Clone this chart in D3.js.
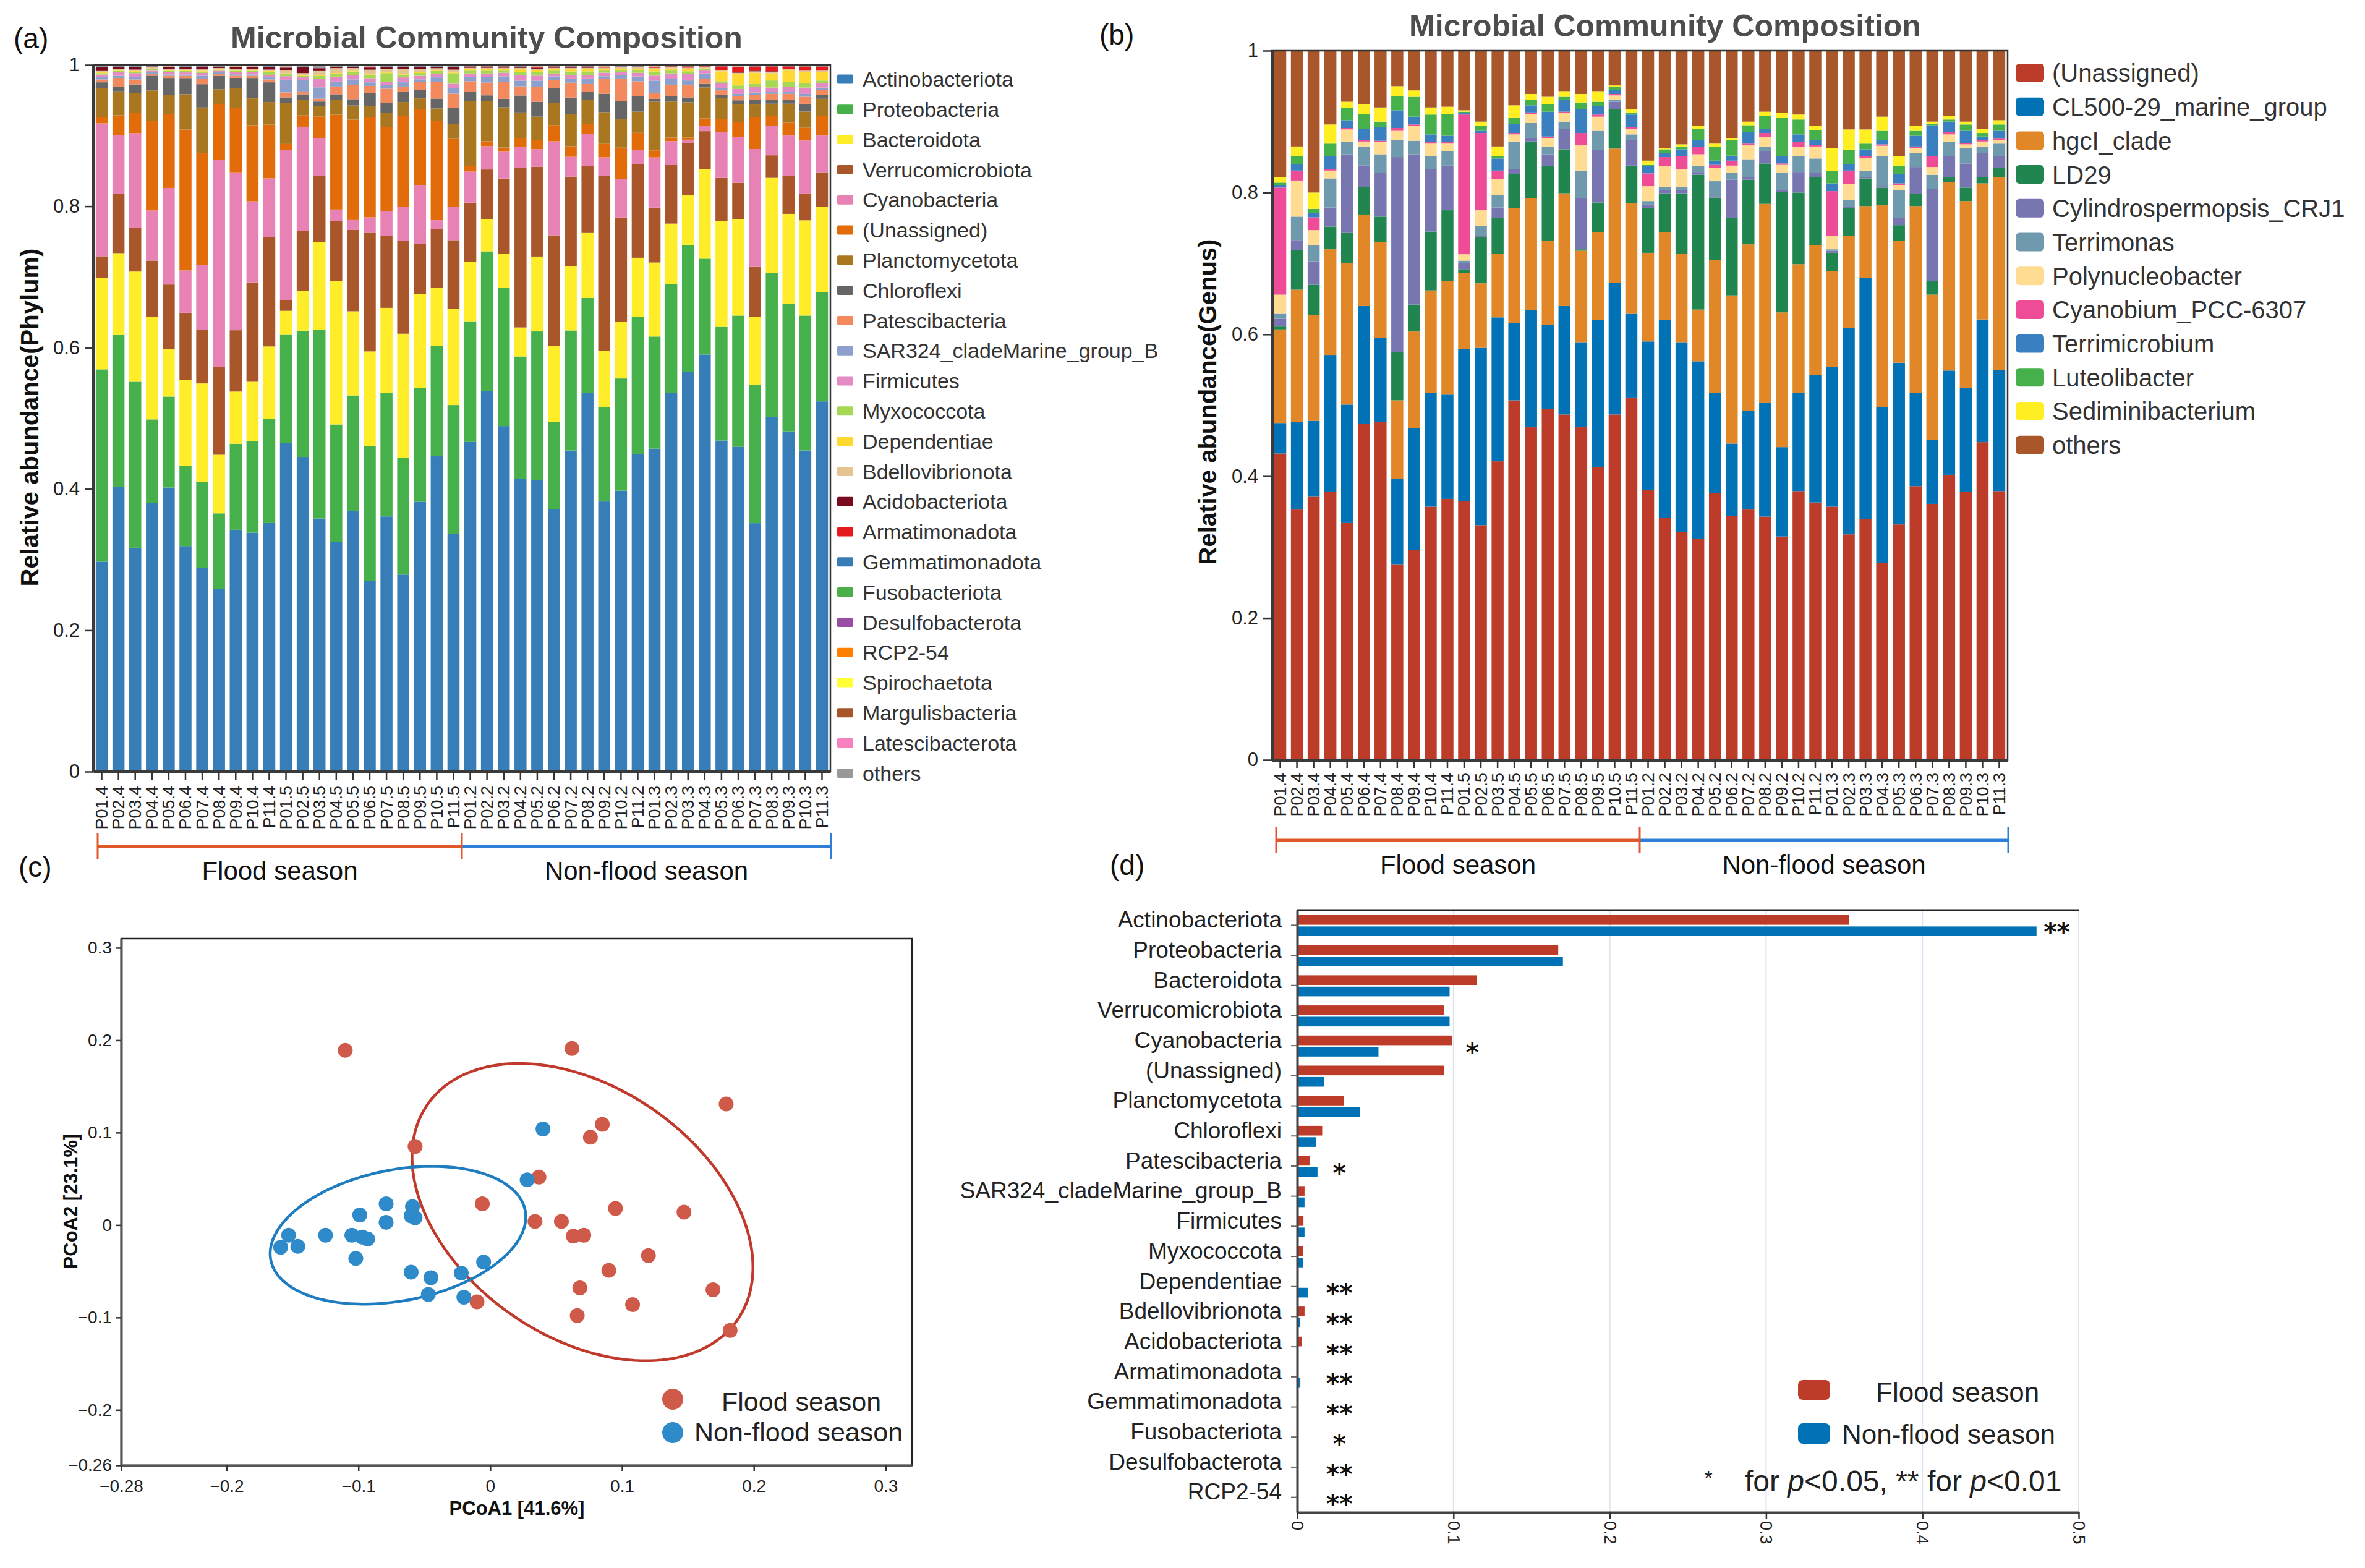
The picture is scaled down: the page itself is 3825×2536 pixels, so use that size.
<!DOCTYPE html>
<html>
<head>
<meta charset="utf-8">
<script src="https://cdn.jsdelivr.net/npm/d3@7"></script>
<style>
  body { margin: 0; background: #fff; }
</style>
</head>
<body>
<script>
var FONT = '"Liberation Sans", Arial, Helvetica, sans-serif';

// ---------- sample labels (a, b) ----------
var samples = ["P01.4","P02.4","P03.4","P04.4","P05.4","P06.4","P07.4","P08.4","P09.4","P10.4","P11.4",
  "P01.5","P02.5","P03.5","P04.5","P05.5","P06.5","P07.5","P08.5","P09.5","P10.5","P11.5",
  "P01.2","P02.2","P03.2","P04.2","P05.2","P06.2","P07.2","P08.2","P09.2","P10.2","P11.2",
  "P01.3","P02.3","P03.3","P04.3","P05.3","P06.3","P07.3","P08.3","P09.3","P10.3","P11.3"];

// ---------- (a) phylum relative abundance, one array per phylum ----------
var phyla = ["Actinobacteriota","Proteobacteria","Bacteroidota","Verrucomicrobiota","Cyanobacteria","(Unassigned)",
  "Planctomycetota","Chloroflexi","Patescibacteria","SAR324_cladeMarine_group_B","Firmicutes","Myxococcota",
  "Dependentiae","Bdellovibrionota","Acidobacteriota","Armatimonadota","Gemmatimonadota","Fusobacteriota",
  "Desulfobacterota","RCP2-54","Spirochaetota","Margulisbacteria","Latescibacterota","others"];
var phylumColors = ["#377EB8","#46B04A","#FFED29","#A9572A","#E982B4","#E36C0A","#A9771F","#666666",
  "#F38A5E","#8DA0CB","#E48BC3","#A6D854","#FFD92F","#E5C494","#7A0A20","#E41A1C","#377EB8","#4DAF4A",
  "#984EA3","#FF7F00","#FFFF33","#A65628","#F781BF","#999999"];

var actino = [.297,.403,.317,.381,.403,.320,.289,.259,.343,.339,.352,.465,.446,.357,.325,.369,.270,.361,.279,.382,.446,.336,
  .467,.539,.490,.414,.413,.371,.455,.536,.383,.398,.450,.458,.537,.567,.592,.469,.460,.352,.502,.482,.455,.525];
var proteo = [.272,.215,.235,.118,.129,.114,.122,.107,.122,.130,.147,.153,.179,.266,.166,.163,.191,.175,.165,.161,.156,.182,
  .171,.198,.196,.173,.210,.124,.170,.135,.134,.159,.194,.159,.154,.180,.136,.161,.186,.196,.204,.181,.191,.155];
var bactero = [.129,.116,.156,.145,.067,.122,.139,.083,.074,.084,.103,.034,.056,.124,.203,.119,.134,.120,.176,.133,.082,.136,
  .084,.046,.048,.041,.106,.107,.091,.092,.080,.080,.084,.105,.086,.070,.127,.150,.137,.096,.135,.127,.135,.121];
var verruco = [.031,.084,.062,.080,.092,.095,.076,.124,.087,.141,.155,.015,.085,.093,.085,.115,.168,.102,.132,.071,.083,.097,
  .084,.070,.107,.226,.127,.157,.127,.095,.248,.148,.133,.078,.083,.074,.054,.061,.051,.071,.032,.054,.038,.049];
var cyano = [.188,.083,.134,.071,.137,.060,.092,.294,.224,.115,.083,.213,.148,.053,.016,.014,.022,.035,.048,.083,.013,.047,
  .044,.033,.038,.029,.025,.133,.028,.045,.026,.055,.020,.071,.034,.005,.008,.065,.065,.167,.042,.057,.075,.052];
var unassignedP = [.009,.028,.029,.127,.105,.200,.158,.079,.091,.108,.076,.008,.016,.031,.134,.142,.142,.119,.128,.108,.140,.096,
  .008,.007,.006,.013,.013,.023,.015,.014,.019,.044,.024,.010,.005,.003,.010,.018,.021,.045,.014,.018,.018,.028];
var plancto = [.041,.034,.028,.043,.027,.050,.065,.021,.028,.038,.032,.058,.022,.015,.021,.020,.015,.020,.020,.015,.018,.021,
  .092,.057,.057,.036,.033,.031,.046,.035,.045,.041,.030,.069,.051,.050,.044,.030,.025,.018,.017,.027,.023,.024];
var chloro = [.008,.006,.012,.021,.024,.023,.033,.019,.015,.029,.028,.008,.008,.006,.008,.009,.019,.014,.015,.012,.014,.023,
  .013,.008,.012,.024,.021,.021,.023,.011,.026,.025,.022,.004,.008,.007,.005,.005,.006,.007,.006,.006,.011,.006];
var patesci = [.004,.013,.007,.003,.003,.003,.008,.003,.003,.003,.004,.007,.004,.004,.011,.020,.010,.020,.007,.011,.024,.020,
  .015,.018,.024,.013,.021,.012,.021,.011,.021,.032,.021,.008,.016,.017,.007,.006,.006,.007,.008,.008,.010,.007];
var sar324 = [.004,.003,.004,.002,.002,.002,.004,.002,.002,.002,.003,.018,.016,.016,.007,.008,.005,.005,.006,.004,.006,.008,
  .006,.008,.008,.008,.009,.005,.006,.008,.004,.005,.007,.018,.008,.007,.008,.003,.003,.003,.003,.003,.004,.003];
var firmi = [.003,.005,.005,.002,.003,.003,.004,.002,.003,.003,.003,.005,.004,.012,.007,.006,.006,.005,.007,.005,.005,.006,
  .005,.005,.005,.008,.007,.004,.005,.005,.005,.004,.005,.007,.008,.009,.004,.007,.007,.008,.006,.007,.009,.006];
var myxo = [.002,.002,.002,.002,.002,.002,.002,.001,.002,.002,.005,.003,.002,.004,.004,.005,.005,.012,.004,.004,.004,.015,
  .004,.004,.003,.004,.005,.004,.005,.005,.003,.003,.004,.006,.004,.004,.002,.003,.005,.004,.010,.007,.006,.004];
var depend = [.001,.001,.001,.001,.001,.001,.001,.001,.001,.001,.001,.001,.001,.001,.001,.001,.001,.001,.001,.001,.001,.001,
  .002,.002,.002,.004,.003,.002,.003,.003,.002,.002,.002,.003,.003,.003,.001,.014,.016,.016,.010,.016,.016,.012];
var bdello = [.002,.002,.002,.002,.002,.002,.002,.002,.002,.002,.002,.004,.003,.006,.007,.004,.006,.005,.007,.005,.003,.004,
  .002,.002,.002,.002,.002,.002,.002,.002,.002,.002,.002,.002,.002,.002,.002,.002,.002,.002,.002,.002,.002,.002];
var acido = [.006,.003,.004,.001,.002,.003,.004,.002,.002,.002,.004,.004,.009,.004,.002,.002,.003,.003,.003,.003,.002,.004,
  .001,.001,.001,.001,.001,.001,.001,.001,0,0,0,0,0,0,0,0,.001,.001,.001,0,0,0];
var armati = [.0002,.0002,.0002,.0002,.0002,.0002,.0002,.0002,.0002,.0002,.0002,.0002,.0002,.0002,.0002,.0002,.0002,.0002,.0002,.0002,.0002,.0002,
  .001,.001,.001,.001,.001,.001,.001,.001,.001,.001,.001,.001,.001,.002,.001,.005,.007,.006,.007,.004,.006,.006];
var gemmati = [.0004,.0003,.0005,.0002,.0003,.0004,.0003,.0002,.0003,.0004,.0005,.0006,.0004,.0005,.0003,.0004,.0005,.0004,.0003,.0004,.0005,.0004,
  .0003,.0002,.0003,.0004,.0003,.0002,.0003,.0003,.0002,.0003,.0004,.0003,.0002,.0002,.0001,.0002,.0002,.0003,.0002,.0002,.0002,.0002];
var fuso = [.0002,.0001,.0002,.0001,.0003,.0002,.0001,.0002,.0001,.0002,.0002,.0003,.0002,.0001,.0002,.0002,.0003,.0002,.0002,.0001,.0002,.0003,
  .0001,.0002,.0001,.0001,.0002,.0001,.0002,.0001,.0002,.0001,.0001,.0002,.0001,.0001,.0002,.0001,.0001,.0002,.0001,.0001,.0002,.0001];
var desulfo = [.0003,.0002,.0002,.0001,.0002,.0003,.0002,.0002,.0001,.0002,.0002,.0002,.0003,.0002,.0002,.0001,.0002,.0002,.0003,.0002,.0002,.0002,
  .0002,.0001,.0002,.0002,.0001,.0002,.0002,.0002,.0001,.0002,.0002,.0001,.0002,.0002,.0002,.0001,.0002,.0002,.0002,.0001,.0002,.0002];
var rcp254 = [.0002,.0002,.0001,.0002,.0002,.0001,.0002,.0002,.0002,.0001,.0002,.0002,.0001,.0002,.0002,.0002,.0001,.0002,.0002,.0002,.0001,.0002,
  .0002,.0002,.0001,.0002,.0002,.0002,.0001,.0002,.0002,.0002,.0001,.0002,.0002,.0001,.0002,.0002,.0002,.0001,.0002,.0002,.0001,.0002];
var spiro = [.0001,.0002,.0001,.0001,.0001,.0002,.0001,.0001,.0002,.0001,.0001,.0002,.0001,.0001,.0002,.0001,.0001,.0001,.0002,.0001,.0001,.0001,
  .0001,.0001,.0002,.0001,.0001,.0001,.0002,.0001,.0001,.0001,.0002,.0001,.0001,.0001,.0001,.0002,.0001,.0001,.0001,.0002,.0001,.0001];
var margul = [.0001,.0001,.0002,.0001,.0001,.0001,.0001,.0002,.0001,.0001,.0001,.0001,.0002,.0001,.0001,.0001,.0002,.0001,.0001,.0001,.0002,.0001,
  .0001,.0001,.0001,.0001,.0002,.0001,.0001,.0001,.0001,.0002,.0001,.0001,.0001,.0002,.0001,.0001,.0001,.0001,.0001,.0001,.0002,.0001];
var latesci = [.0001,.0001,.0001,.0002,.0001,.0001,.0001,.0001,.0001,.0002,.0001,.0001,.0001,.0002,.0001,.0001,.0001,.0002,.0001,.0001,.0001,.0001,
  .0001,.0002,.0001,.0001,.0001,.0002,.0001,.0001,.0001,.0001,.0001,.0002,.0001,.0001,.0001,.0001,.0002,.0001,.0001,.0001,.0001,.0002];
var othersP = [.001,.001,.001,.001,.002,.001,.001,.001,.002,.002,.001,.002,.001,.003,.001,.001,.002,.001,.001,.001,.001,.001,
  .001,.001,.001,.001,.002,.001,.001,.001,.002,.001,.001,.002,.001,.001,.001,.001,.002,.001,.001,.001,.001,.001];

var phylumValues = [actino, proteo, bactero, verruco, cyano, unassignedP, plancto, chloro, patesci, sar324, firmi, myxo,
  depend, bdello, acido, armati, gemmati, fuso, desulfo, rcp254, spiro, margul, latesci, othersP];

// ---------- (b) genus relative abundance ----------
var genera = ["(Unassigned)","CL500-29_marine_group","hgcI_clade","LD29","Cylindrospermopsis_CRJ1","Terrimonas",
  "Polynucleobacter","Cyanobium_PCC-6307","Terrimicrobium","Luteolibacter","Sediminibacterium","others"];
var genusColors = ["#BC3C29","#0072B5","#E18727","#20854E","#7876B1","#6F99AD","#FFDC91","#EE4C97",
  "#3A80C1","#46B04A","#FFEF22","#A9572A"];

var gUnassigned = [.432,.353,.371,.378,.334,.474,.476,.276,.296,.357,.368,.365,.331,.421,.507,.469,.495,.487,.469,.413,.487,.511,
  .381,.341,.321,.312,.376,.344,.353,.343,.315,.379,.363,.357,.318,.340,.278,.332,.386,.361,.402,.378,.448,.379];
var gCL500 = [.043,.123,.107,.193,.167,.166,.119,.120,.172,.160,.147,.214,.250,.203,.109,.165,.118,.153,.120,.207,.186,.118,
  .209,.279,.268,.250,.141,.102,.139,.161,.126,.138,.180,.197,.291,.340,.219,.228,.131,.090,.147,.146,.173,.171];
var gHgcI = [.132,.187,.149,.149,.200,.129,.135,.111,.136,.145,.160,.108,.091,.090,.162,.158,.119,.159,.129,.124,.189,.156,
  .125,.124,.125,.073,.188,.209,.235,.280,.190,.182,.183,.135,.130,.101,.285,.172,.264,.205,.266,.264,.192,.272];
var gLD29 = [.004,.056,.043,.032,.042,.039,.036,.068,.038,.083,.100,.005,.065,.050,.048,.080,.105,.062,.002,.042,.056,.053,
  .063,.055,.085,.190,.088,.109,.091,.057,.170,.101,.096,.026,.039,.039,.025,.022,.017,.019,.007,.019,.009,.013];
var gCylindro = [.011,.014,.033,.027,.111,.030,.062,.275,.212,.088,.063,.009,.002,.015,.007,.005,.017,.029,.072,.074,.010,.036,
  .005,.004,.004,.004,.002,.054,.004,.017,.002,.029,.006,.003,.002,.002,.002,.010,.038,.130,.029,.034,.034,.016];
var gTerrimonas = [.007,.033,.023,.041,.017,.027,.026,.024,.019,.018,.020,.003,.014,.017,.039,.021,.011,.010,.039,.027,.003,.008,
  .005,.005,.005,.008,.021,.010,.025,.006,.025,.022,.020,.002,.010,.009,.042,.039,.020,.020,.020,.022,.009,.018];
var gPolynuc = [.027,.051,.021,.011,.018,.007,.017,.013,.021,.018,.011,.009,.022,.023,.010,.013,.012,.012,.036,.020,.006,.008,
  .021,.029,.025,.017,.019,.010,.020,.014,.011,.013,.017,.019,.022,.018,.015,.007,.007,.011,.011,.005,.007,.005];
var gCyanobium = [.151,.014,.018,.002,.002,.002,.002,.004,.002,.002,.002,.197,.109,.012,.002,.002,.002,.002,.017,.003,.002,.002,
  .018,.013,.018,.010,.004,.007,.002,.006,.002,.007,.002,.063,.019,.002,.002,.003,.002,.015,.003,.002,.002,.002];
var gTerrimicro = [.003,.009,.006,.018,.011,.016,.019,.025,.011,.011,.009,.002,.003,.017,.013,.010,.035,.017,.034,.012,.006,.018,
  .010,.006,.010,.010,.006,.007,.016,.006,.010,.011,.007,.011,.009,.010,.006,.013,.015,.044,.015,.017,.005,.011];
var gLuteo = [.004,.011,.006,.018,.017,.021,.008,.020,.028,.028,.031,.002,.007,.003,.008,.008,.011,.004,.009,.006,.004,.003,
  .002,.005,.004,.016,.019,.022,.010,.018,.054,.021,.014,.017,.020,.008,.013,.012,.007,.002,.003,.009,.005,.009];
var gSedimini = [.008,.014,.023,.027,.009,.014,.020,.014,.009,.010,.010,.002,.006,.014,.018,.008,.010,.008,.012,.015,.002,.005,
  .006,.002,.003,.004,.005,.003,.005,.006,.007,.007,.006,.033,.029,.020,.020,.013,.007,.003,.005,.004,.006,.006];
var gOthers = [.178,.135,.200,.104,.072,.075,.080,.050,.056,.080,.079,.084,.100,.135,.077,.061,.065,.057,.061,.057,.049,.082,
  .155,.137,.132,.106,.131,.123,.100,.086,.088,.090,.106,.137,.111,.111,.093,.149,.106,.100,.092,.100,.110,.098];

var genusValues = [gUnassigned, gCL500, gHgcI, gLD29, gCylindro, gTerrimonas, gPolynuc, gCyanobium,
  gTerrimicro, gLuteo, gSedimini, gOthers];

// ---------- (c) PCoA scores ----------
var floodPC1 = [-.110,.062,.179,.085,.076,-.057,.037,-.006,.095,.147,.034,.054,.063,.071,.120,.090,.068,.169,-.010,.108,.066,.182];
var floodPC2 = [.189,.191,.131,.109,.095,.085,.052,.023,.018,.014,.004,.004,-.012,-.011,-.033,-.049,-.068,-.070,-.083,-.086,-.098,-.114];
var nonPC1 = [.040,.028,-.079,-.059,-.099,-.060,-.057,-.079,-.153,-.125,-.105,-.097,-.093,-.159,-.146,-.102,-.005,-.060,-.022,-.045,-.047,-.020];
var nonPC2 = [.104,.049,.023,.020,.011,.010,.008,.003,-.011,-.011,-.011,-.013,-.015,-.024,-.023,-.036,-.040,-.051,-.052,-.057,-.075,-.078];
// confidence ellipses: centre x, centre y, semi-major, semi-minor, angle (deg)
var floodEllipse = [0.070, 0.014, 0.174, 0.111, -60.3];
var nonEllipse = [-0.070, -0.011, 0.101, 0.069, 22.5];
var pcoaXTicks = [-0.28, -0.2, -0.1, 0, 0.1, 0.2, 0.3];
var pcoaYTicks = [-0.26, -0.2, -0.1, 0, 0.1, 0.2, 0.3];

// ---------- (d) mean abundance by season ----------
var dPhyla = ["Actinobacteriota","Proteobacteria","Bacteroidota","Verrucomicrobiota","Cyanobacteria","(Unassigned)",
  "Planctomycetota","Chloroflexi","Patescibacteria","SAR324_cladeMarine_group_B","Firmicutes","Myxococcota",
  "Dependentiae","Bdellovibrionota","Acidobacteriota","Armatimonadota","Gemmatimonadota","Fusobacteriota",
  "Desulfobacterota","RCP2-54"];
var floodMean = [.353,.167,.115,.094,.099,.094,.030,.016,.008,.0047,.004,.0037,.0005,.0047,.003,.0003,.0003,.0002,.0002,.0002];
var nonMean = [.473,.170,.0975,.0975,.052,.017,.040,.012,.013,.0047,.0047,.0037,.007,.002,.0005,.002,.0003,.0002,.0002,.0002];
var signif = ["**","","","","*","","","","*","","","","**","**","**","**","**","*","**","**"];
var dTicks = [0, 0.1, 0.2, 0.3, 0.4, 0.5];

// ================================================================
var svg = d3.select("body").append("svg")
  .attr("width", 3825).attr("height", 2536)
  .attr("font-family", FONT);
svg.append("rect").attr("width", 3825).attr("height", 2536).attr("fill", "#fff");

function styleAxis(ax, fs) {
  ax.attr("font-family", FONT);
  ax.selectAll(".tick text").attr("font-size", fs).attr("fill", "#222");
  ax.selectAll(".tick line").attr("stroke", "#333").attr("stroke-width", 2.5);
}

function drawStacked(p) {
  var g = svg.append("g");
  var x = d3.scaleBand().domain(samples).range([p.x0, p.x1]).paddingInner(0.28).paddingOuter(0.14);
  var y = d3.scaleLinear().domain([0, 1]).range([p.yBot, p.yTop]);
  var rows = samples.map(function(s, i) {
    var r = {sample: s};
    p.keys.forEach(function(k, j) { r[k] = p.values[j][i]; });
    return r;
  });
  var series = d3.stack().keys(p.keys).offset(d3.stackOffsetExpand)(rows);

  g.selectAll("g.layer").data(series).join("g")
    .attr("fill", function(d, i) { return p.colors[i]; })
    .selectAll("rect").data(function(d) { return d; }).join("rect")
    .attr("x", function(d) { return x(d.data.sample); })
    .attr("width", x.bandwidth())
    .attr("y", function(d) { return y(d[1]); })
    .attr("height", function(d) { return y(d[0]) - y(d[1]); });

  g.append("rect").attr("x", p.x0).attr("y", p.yTop)
    .attr("width", p.x1 - p.x0).attr("height", p.yBot - p.yTop)
    .attr("fill", "none").attr("stroke", "#333").attr("stroke-width", 2.5);

  var ya = g.append("g").attr("transform", "translate(" + p.x0 + ",0)")
    .call(d3.axisLeft(y).tickValues([0, .2, .4, .6, .8, 1]).tickSize(14).tickSizeOuter(0).tickPadding(8)
      .tickFormat(function(d) { return (d === 0 || d === 1) ? String(d) : d.toFixed(1); }));
  ya.select(".domain").attr("stroke", "#3a3a3a").attr("stroke-width", 5);
  styleAxis(ya, 31);

  var xa = g.append("g").attr("transform", "translate(0," + p.yBot + ")")
    .call(d3.axisBottom(x).tickSize(13).tickSizeOuter(0));
  xa.select(".domain").attr("stroke", "#3a3a3a").attr("stroke-width", 5);
  styleAxis(xa, 27);
  xa.selectAll(".tick text")
    .attr("transform", "rotate(-90)")
    .attr("x", -(p.labelTop - p.yBot)).attr("y", 0).attr("dy", "0.35em")
    .attr("text-anchor", "end");

  // title
  g.append("text").attr("x", p.titleX).attr("y", p.titleY).attr("text-anchor", "middle")
    .attr("font-size", 50).attr("font-weight", "bold").attr("fill", "#4d4d4d")
    .text("Microbial Community Composition");
  // y title
  g.append("text").attr("transform", "translate(" + p.yTitleX + "," + p.yTitleY + ") rotate(-90)")
    .attr("text-anchor", "middle").attr("font-size", 40).attr("font-weight", "bold").attr("fill", "#111")
    .text(p.yTitle);

  // season bracket
  var split = x(samples[22]) - x.step() * 0.14;
  var bx0 = p.x0 + 7, bx1 = p.x1 + 1;
  g.append("line").attr("x1", bx0).attr("x2", split).attr("y1", p.brY).attr("y2", p.brY)
    .attr("stroke", "#E0572A").attr("stroke-width", 5);
  g.append("line").attr("x1", split).attr("x2", bx1).attr("y1", p.brY).attr("y2", p.brY)
    .attr("stroke", "#2F7FD6").attr("stroke-width", 5);
  [[bx0, "#E0572A"], [split, "#E0572A"], [bx1, "#2F7FD6"]].forEach(function(t) {
    g.append("line").attr("x1", t[0]).attr("x2", t[0]).attr("y1", p.brY - 22).attr("y2", p.brY + 20)
      .attr("stroke", t[1]).attr("stroke-width", 3);
  });
  g.append("text").attr("x", (bx0 + split) / 2).attr("y", p.brY + 54).attr("text-anchor", "middle")
    .attr("font-size", 42).attr("fill", "#111").text("Flood season");
  g.append("text").attr("x", (split + bx1) / 2).attr("y", p.brY + 54).attr("text-anchor", "middle")
    .attr("font-size", 42).attr("fill", "#111").text("Non-flood season");

  // legend
  var lg = g.append("g");
  p.keys.forEach(function(k, i) {
    var cy = p.legY + i * p.legStep;
    lg.append("rect").attr("x", p.legX).attr("y", cy - p.swH / 2).attr("width", p.swW).attr("height", p.swH)
      .attr("rx", p.swR).attr("fill", p.colors[i]);
    lg.append("text").attr("x", p.legTextX).attr("y", cy).attr("dy", "0.36em")
      .attr("font-size", p.legFs).attr("fill", "#333").text(k);
  });
}

drawStacked({
  keys: phyla, values: phylumValues, colors: phylumColors,
  x0: 151, x1: 1343, yTop: 105, yBot: 1248, labelTop: 1271,
  titleX: 787, titleY: 78, yTitle: "Relative abundance(Phylum)", yTitleX: 62, yTitleY: 675,
  brY: 1369,
  legX: 1354, legY: 128, legStep: 48.8, swW: 26, swH: 15, swR: 2, legTextX: 1395, legFs: 34
});

drawStacked({
  keys: genera, values: genusValues, colors: genusColors,
  x0: 2057, x1: 3247, yTop: 82, yBot: 1229, labelTop: 1250,
  titleX: 2693, titleY: 59, yTitle: "Relative abundance(Genus)", yTitleX: 1967, yTitleY: 650,
  brY: 1359,
  legX: 3260, legY: 118, legStep: 54.7, swW: 46, swH: 30, swR: 6, legTextX: 3319, legFs: 40
});

// ---------- (c) PCoA ----------
(function() {
  var g = svg.append("g");
  var x = d3.scaleLinear().domain([-0.28, 0.32]).range([196, 1475]);
  var y = d3.scaleLinear().domain([-0.26, 0.31]).range([2370, 1518]);
  var fmt = function(d) { return d === 0 ? "0" : (d < 0 ? "\u2212" : "") + Math.abs(d); };

  g.append("rect").attr("x", 196).attr("y", 1518).attr("width", 1279).attr("height", 852)
    .attr("fill", "none").attr("stroke", "#222").attr("stroke-width", 2.5);
  var xa = g.append("g").attr("transform", "translate(0,2370)")
    .call(d3.axisBottom(x).tickValues(pcoaXTicks).tickSize(9).tickSizeOuter(0).tickPadding(14).tickFormat(fmt));
  xa.select(".domain").attr("stroke", "#555").attr("stroke-width", 4);
  styleAxis(xa, 28);
  var ya = g.append("g").attr("transform", "translate(196,0)")
    .call(d3.axisLeft(y).tickValues(pcoaYTicks).tickSize(9).tickSizeOuter(0).tickPadding(6).tickFormat(fmt));
  ya.select(".domain").attr("stroke", "#555").attr("stroke-width", 4);
  styleAxis(ya, 28);

  function ellipsePath(e) {
    var phi = e[4] * Math.PI / 180;
    var pts = d3.range(0, 361, 2).map(function(t) {
      var a = t * Math.PI / 180;
      return [e[0] + e[2] * Math.cos(a) * Math.cos(phi) - e[3] * Math.sin(a) * Math.sin(phi),
              e[1] + e[2] * Math.cos(a) * Math.sin(phi) + e[3] * Math.sin(a) * Math.cos(phi)];
    });
    return d3.line().x(function(d) { return x(d[0]); }).y(function(d) { return y(d[1]); })(pts);
  }
  g.append("path").attr("d", ellipsePath(floodEllipse)).attr("fill", "none")
    .attr("stroke", "#C0392B").attr("stroke-width", 4.5);
  g.append("path").attr("d", ellipsePath(nonEllipse)).attr("fill", "none")
    .attr("stroke", "#1E7CC0").attr("stroke-width", 4.5);

  g.selectAll("circle.fl").data(floodPC1).join("circle").attr("class", "fl")
    .attr("cx", function(d) { return x(d); })
    .attr("cy", function(d, i) { return y(floodPC2[i]); })
    .attr("r", 12).attr("fill", "#CF5A4A");
  g.selectAll("circle.nf").data(nonPC1).join("circle").attr("class", "nf")
    .attr("cx", function(d) { return x(d); })
    .attr("cy", function(d, i) { return y(nonPC2[i]); })
    .attr("r", 12).attr("fill", "#2E8AC8");

  g.append("circle").attr("cx", 1088).attr("cy", 2263).attr("r", 17).attr("fill", "#CF5A4A");
  g.append("text").attr("x", 1167).attr("y", 2282).attr("font-size", 43).attr("fill", "#222").text("Flood season");
  g.append("circle").attr("cx", 1088).attr("cy", 2317).attr("r", 17).attr("fill", "#2E8AC8");
  g.append("text").attr("x", 1123).attr("y", 2331).attr("font-size", 43).attr("fill", "#222").text("Non-flood season");

  g.append("text").attr("x", 836).attr("y", 2450).attr("text-anchor", "middle")
    .attr("font-size", 31).attr("font-weight", "bold").attr("fill", "#111").text("PCoA1 [41.6%]");
  g.append("text").attr("transform", "translate(125,1943) rotate(-90)").attr("text-anchor", "middle")
    .attr("font-size", 31).attr("font-weight", "bold").attr("fill", "#111").text("PCoA2 [23.1%]");
})();

// ---------- (d) season comparison ----------
(function() {
  var g = svg.append("g");
  var x = d3.scaleLinear().domain([0, 0.5]).range([2098, 3362]);
  var y = d3.scaleBand().domain(dPhyla).range([1472, 2446]);
  var sub = d3.scaleBand().domain(["flood", "non"]).range([8, 42]).paddingInner(0.15);

  g.selectAll("line.grid").data(dTicks.slice(1)).join("line").attr("class", "grid")
    .attr("x1", function(d) { return x(d); }).attr("x2", function(d) { return x(d); })
    .attr("y1", 1472).attr("y2", 2446).attr("stroke", "#dde2ee").attr("stroke-width", 2);

  g.selectAll("rect.fl").data(floodMean).join("rect").attr("class", "fl")
    .attr("x", x(0)).attr("y", function(d, i) { return y(dPhyla[i]) + sub("flood"); })
    .attr("width", function(d) { return x(d) - x(0); }).attr("height", sub.bandwidth())
    .attr("fill", "#BC3C29");
  g.selectAll("rect.nf").data(nonMean).join("rect").attr("class", "nf")
    .attr("x", x(0)).attr("y", function(d, i) { return y(dPhyla[i]) + sub("non"); })
    .attr("width", function(d) { return x(d) - x(0); }).attr("height", sub.bandwidth())
    .attr("fill", "#0072B5");

  g.append("line").attr("x1", x(0)).attr("x2", x(0.5)).attr("y1", 1472).attr("y2", 1472)
    .attr("stroke", "#222").attr("stroke-width", 3);

  var ya = g.append("g").attr("transform", "translate(2098,0)")
    .call(d3.axisLeft(y).tickSize(10).tickSizeOuter(0).tickPadding(15));
  ya.select(".domain").attr("stroke", "#444").attr("stroke-width", 4);
  styleAxis(ya, 37);
  ya.selectAll(".tick line").attr("stroke", "#666").attr("stroke-width", 2);
  ya.selectAll(".tick text").attr("y", -8);

  var xa = g.append("g").attr("transform", "translate(0,2446)")
    .call(d3.axisBottom(x).tickValues(dTicks).tickSize(10).tickSizeOuter(0)
      .tickFormat(function(d) { return d === 0 ? "0" : d.toFixed(1); }));
  xa.select(".domain").attr("stroke", "#444").attr("stroke-width", 4);
  styleAxis(xa, 27);
  xa.selectAll(".tick text").attr("transform", "rotate(90)")
    .attr("x", 14).attr("y", 0).attr("dy", "0.35em").attr("text-anchor", "start");

  // significance marks
  var starFs = 41;
  g.selectAll("text.sig").data(signif).join("text").attr("class", "sig")
    .attr("x", function(d, i) { return x(Math.max(Math.max(floodMean[i], nonMean[i]) + 0.013, 0.027)); })
    .attr("y", function(d, i) { return y(dPhyla[i]) + y.bandwidth() / 2 + starFs * 0.6; })
    .attr("text-anchor", "middle").attr("font-family", '"DejaVu Sans", sans-serif')
    .attr("font-size", starFs).attr("font-weight", "bold").attr("fill", "#111")
    .text(function(d) { return d; });

  // legend
  g.append("rect").attr("x", 2908).attr("y", 2232).attr("width", 52).attr("height", 32).attr("rx", 8).attr("fill", "#BC3C29");
  g.append("text").attr("x", 3034).attr("y", 2267).attr("font-size", 44).attr("fill", "#222").text("Flood season");
  g.append("rect").attr("x", 2908).attr("y", 2302).attr("width", 52).attr("height", 33).attr("rx", 8).attr("fill", "#0072B5");
  g.append("text").attr("x", 2979).attr("y", 2335).attr("font-size", 44).attr("fill", "#222").text("Non-flood season");

  g.append("text").attr("x", 2763).attr("y", 2402).attr("text-anchor", "middle").attr("font-size", 34).attr("fill", "#222").text("*");
  var note = g.append("text").attr("x", 2822).attr("y", 2412).attr("font-size", 48).attr("fill", "#222");
  note.append("tspan").text("for ");
  note.append("tspan").attr("font-style", "italic").text("p");
  note.append("tspan").text("<0.05, ** for ");
  note.append("tspan").attr("font-style", "italic").text("p");
  note.append("tspan").text("<0.01");
})();

// panel letters
[["(a)", 22, 78], ["(b)", 1778, 72], ["(c)", 30, 1418], ["(d)", 1795, 1415]].forEach(function(l) {
  svg.append("text").attr("x", l[1]).attr("y", l[2]).attr("font-size", 46).attr("fill", "#111").text(l[0]);
});
</script>
</body>
</html>
